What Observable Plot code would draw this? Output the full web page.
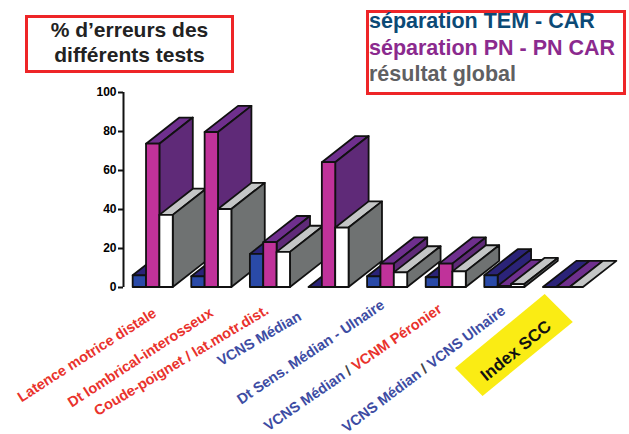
<!DOCTYPE html>
<html lang="fr">
<head>
<meta charset="utf-8">
<title>% d'erreurs des différents tests</title>
<script src="https://cdn.jsdelivr.net/npm/d3@7"></script>
<script src="https://cdn.jsdelivr.net/npm/@observablehq/plot@0.6"></script>
<style>
  html, body { margin: 0; padding: 0; background: #fff; }
  #page { position: relative; width: 629px; height: 434px; overflow: hidden; font-family: "Liberation Sans", Arial, sans-serif; font-weight: bold; }
  #page svg { position: absolute; left: 0; top: 0; }
  .box { position: absolute; box-sizing: border-box; border: 3px solid #ee2528; background: #fff; }
  #title { left: 25px; top: 15px; width: 209px; height: 58px; text-align: center; font-size: 21px; line-height: 25px; color: #222; }
  #legend { left: 366px; top: 10px; width: 260px; height: 85px; font-size: 21.5px; line-height: 26.5px; padding-left: 0; white-space: nowrap; }
</style>
</head>
<body>
<div id="page">
  <div id="title" class="box"><div style="margin-top:-1px">% d’erreurs des<br>différents tests</div></div>
  <div id="legend" class="box">
    <div style="color:#0c4a76;margin-top:-5px">séparation TEM - CAR</div>
    <div style="color:#8b2a8e">séparation PN - PN CAR</div>
    <div style="color:#5f6062">résultat global</div>
  </div>
</div>
<script>
// Error rates (%) per test, one array per series
const temCar   = [6, 5.5, 17, 0, 5.5, 5, 6, 0];
const pnPnCar  = [73.5, 79.5, 23, 64, 12, 12, 0.5, 0];
const global   = [37, 40, 18, 30.5, 7.5, 8, 1.5, 0];
const yTicks   = [0, 20, 40, 60, 80, 100];

// Each label is a list of [text, colour] runs
const RED = "#e9322c", BLUE = "#3d4ca3", GREY = "#444";
const testLabels = [
  [["Latence motrice distale", RED]],
  [["Dt lombrical-interosseux", RED]],
  [["Coude-poignet / lat.motr.dist.", RED]],
  [["VCNS Médian", BLUE]],
  [["Dt Sens. Médian - Ulnaire", BLUE]],
  [["VCNS Médian ", BLUE], ["/ ", GREY], ["VCNM Péronier", RED]],
  [["VCNS Médian ", BLUE], ["/ ", GREY], ["VCNS Ulnaire", BLUE]]
];
const indexLabel = "Index SCC";

// Label anchors, in category units and in percent below the baseline, and slant in degrees
const labelDx = [0.37, 0.34, 0.29, -0.15, 0.26, 0.24, 0.32];
const labelY  = [-12.5, -12.2, -11, -14.2, -8.2, -10.3, -11];
const labelTilt = [32.5, 33, 31, 30, 34, 34.5, 37];

// Face colours per series: front, side, top
const faces = [
  {front: "#2a4aa8", side: "#2b2378", top: "#2b2378"},
  {front: "#c0329a", side: "#5f2a78", top: "#6f2f8e"},
  {front: "#ffffff", side: "#6f7272", top: "#c4c6c6"}
];

// Projection of the oblique bars: bar width and depth, in scale units
const barW = 0.228, depthX = 0.57, depthY = 13.4;
const xDomain = [-0.165, 8.469];

// Each face is a two-row ribbon: (x1,y1)-(x2,y2) for its left and right edges
function quad(rows, z, fill, a, d, b, c) {
  rows.push({z, fill, x1: a[0], y1: a[1], x2: d[0], y2: d[1]});
  rows.push({z, fill, x1: b[0], y1: b[1], x2: c[0], y2: c[1]});
}
const rows = [];
[0, 1, 2, 3, 4, 5, 6, 7].forEach(i => {
  [temCar, pnPnCar, global].forEach((series, s) => {
    const v = series[i], l = i + s * barW, r = l + barW, f = faces[s], id = `${i}-${s}`;
    quad(rows, id + "t", f.top, [l, v], [l + depthX, v + depthY], [r, v], [r + depthX, v + depthY]);
    if (v > 0) {
      quad(rows, id + "s", f.side, [r, 0], [r, v], [r + depthX, depthY], [r + depthX, v + depthY]);
      quad(rows, id + "f", f.front, [l, 0], [l, v], [r, 0], [r, v]);
    }
  });
});

// Yellow tag behind the last label
const tag = [];
quad(tag, "tag", "#faec14", [5.50, -41.5], [5.97, -55.9], [7.03, -3.6], [7.51, -17.9]);

const labelRows = testLabels.map((runs, i) => ({
  runs, x: i + labelDx[i], y: labelY[i], tilt: -labelTilt[i], text: runs.map(r => r[0]).join("")
}));

// Splits a label into coloured tspans once Plot has placed the text
function colourRuns(index, scales, values, dims, context, next) {
  const g = next(index, scales, values, dims, context);
  d3.select(g).selectAll("text").each(function(i) {
    const sel = d3.select(this).text(null);
    labelRows[i].runs.forEach(([t, c]) => sel.append("tspan").attr("fill", c).text(t));
  });
  return g;
}

const chart = Plot.plot({
  width: 629,
  height: 434,
  marginLeft: 123,
  marginRight: 0,
  marginTop: 92,
  marginBottom: 147,
  style: {background: "transparent", overflow: "visible", fontFamily: "Liberation Sans"},
  x: {domain: xDomain, axis: null},
  y: {domain: [0, 100], axis: null},
  marks: [
    Plot.area(tag, {x1: "x1", y1: "y1", x2: "x2", y2: "y2", z: "z", fill: "fill"}),
    Plot.area(rows, {
      x1: "x1", y1: "y1", x2: "x2", y2: "y2", z: "z", fill: "fill",
      stroke: "#111", strokeWidth: 1.8, strokeLinejoin: "round", curve: "linear"
    }),
    Plot.axisY({
      ticks: yTicks, tickSize: 5, tickPadding: 2, label: null,
      fontSize: 12, fontWeight: "bold", stroke: "#111", strokeWidth: 2
    }),
    Plot.ruleX([xDomain[0]], {y1: 0, y2: 100, stroke: "#111", strokeWidth: 2}),
    Plot.text(labelRows, {
      x: "x", y: "y", text: "text", rotate: "tilt",
      textAnchor: "end",
      fontSize: 14.5, fontWeight: "bold", fontFamily: "Liberation Sans",
      render: colourRuns
    }),
    Plot.text([indexLabel], {
      x: 7 - 0.47, y: -32.5, text: d => d, rotate: -39,
      fontSize: 17, fontWeight: "bold", fontFamily: "Liberation Sans", fill: "#111"
    })
  ]
});
document.getElementById("page").prepend(chart);
</script>
</body>
</html>
